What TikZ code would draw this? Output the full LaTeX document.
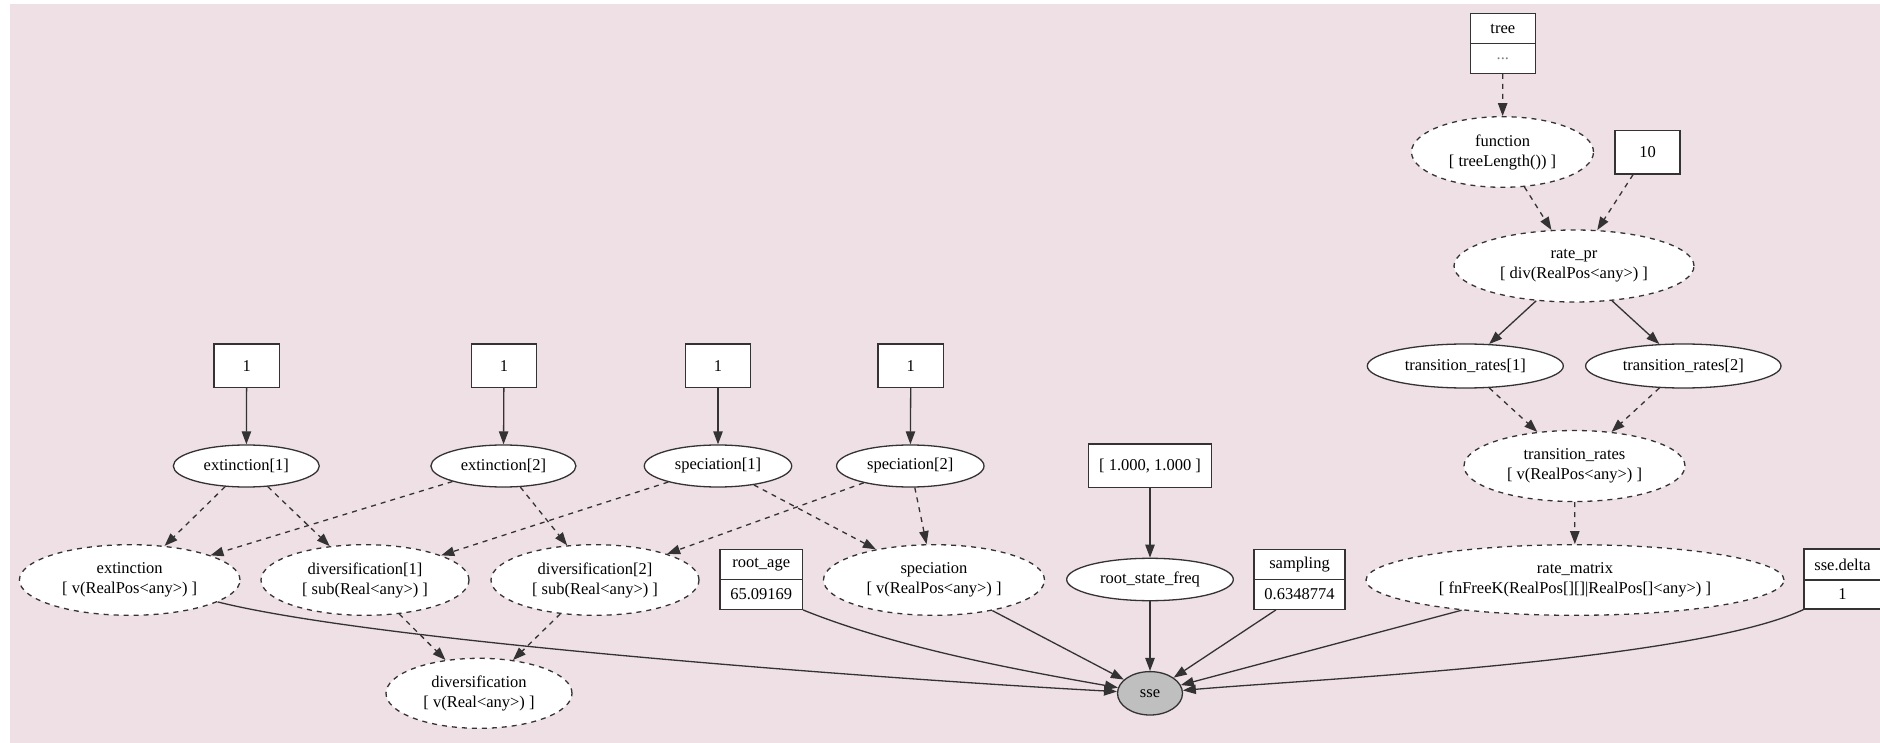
\documentclass[tikz,border=0pt]{standalone}
\usepackage{fontspec}
\setmainfont{Liberation Serif}
\usepackage{tikz}
\usetikzlibrary{shapes.geometric,arrows.meta}
\definecolor{bg}{RGB}{238,224,229}

\begin{document}
\begin{tikzpicture}[x=0.5pt, y=-0.5pt, line width=0.65pt, % 1単位=1px、y軸は下向き
    font=\fontsize{8.25pt}{10pt}\selectfont,
    every node/.style={draw=black!80, fill=white, inner sep=0pt, align=center},
    wh/.style 2 args={minimum width=#1pt, minimum height=#2pt}, % 幅・高さ(pt)
    stoch/.style={ellipse}, % 確率変数
    determ/.style={ellipse, dash pattern=on 2.5pt off 2.5pt}, % 決定論的変数
    const/.style={rectangle}, % 定数
    clamped/.style={ellipse, fill=black!25}, % 観測値
    arr/.style={draw=black!80, -{Triangle[length=6.5pt, width=4.7pt]}}, % 矢印
    darr/.style={arr, dash pattern=on 2.5pt off 2.5pt}]
    \useasboundingbox (0,0) rectangle (1880,743);
    \clip (0,0) rectangle (1880,743);
    \fill[bg] (10,4) rectangle (1890,750); % 背景

    % 定数の箱
    \node[const, wh={32.7}{21.7}] (c1) at (246.7,365.7) {1};
    \node[const, wh={32.7}{21.7}] (c2) at (504,365.7) {1};
    \node[const, wh={32.7}{21.7}] (c3) at (718,365.7) {1};
    \node[const, wh={32.7}{21.7}] (c4) at (910.8,365.7) {1};
    \node[const, wh={61.7}{21.8}] (freq) at (1150,465.8) {[ 1.000, 1.000 ]};
    \node[const, wh={32.5}{21.7}] (ten) at (1647.5,152.3) {10};

    % 二段の箱(名前と値)
    \node[const, wh={32.5}{14.8}] (treeh) at (1502.8,28.5) {tree};
    \node[const, wh={32.5}{15}] (tree) at (1502.8,58.3) {\color{gray}...};
    \node[const, wh={41.2}{15}] (rah) at (761.2,564.3) {root\_age};
    \node[const, wh={41.2}{15}] (ra) at (761.2,594.3) {65.09169};
    \node[const, wh={45.5}{15}] (samph) at (1299.5,564.3) {sampling};
    \node[const, wh={45.5}{15}] (samp) at (1299.5,594.3) {0.6348774};
    \node[const, wh={38.5}{15.5}] (deltah) at (1842.5,564.5) {sse.delta};
    \node[const, wh={38.5}{14.5}] (delta) at (1842.5,594.5) {1};

    % 確率変数
    \node[stoch, wh={73}{21}] (ext1) at (246.3,466) {extinction[1]};
    \node[stoch, wh={72.5}{21}] (ext2) at (503.4,466) {extinction[2]};
    \node[stoch, wh={73.7}{21}] (spe1) at (718,466) {speciation[1]};
    \node[stoch, wh={73.7}{21}] (spe2) at (910.3,466) {speciation[2]};
    \node[stoch, wh={83.3}{21.2}] (rsf) at (1150,579.5) {root\_state\_freq};
    \node[stoch, wh={98}{22}] (tr1) at (1465.3,366) {transition\_rates[1]};
    \node[stoch, wh={97.7}{22}] (tr2) at (1683.3,366) {transition\_rates[2]};
    \node[clamped, wh={32.5}{21.7}] (sse) at (1150,693.3) {sse};

    % 決定論的変数
    \node[determ, wh={110.3}{35.3}] (ext) at (129.7,580) {extinction\\{[} v(RealPos<any>) ]};
    \node[determ, wh={104}{35.3}] (div1) at (365,580) {diversification[1]\\{[} sub(Real<any>) ]};
    \node[determ, wh={104}{35.3}] (div2) at (595,580) {diversification[2]\\{[} sub(Real<any>) ]};
    \node[determ, wh={110.5}{35.3}] (spe) at (934,580) {speciation\\{[} v(RealPos<any>) ]};
    \node[determ, wh={93}{35}] (div) at (479,693.3) {diversification\\{[} v(Real<any>) ]};
    \node[determ, wh={91}{35.3}] (func) at (1502.5,152) {function\\{[} treeLength()) ]};
    \node[determ, wh={120}{36}] (ratepr) at (1574,266) {rate\_pr\\{[} div(RealPos<any>) ]};
    \node[determ, wh={110.5}{35.5}] (trates) at (1574.5,466) {transition\_rates\\{[} v(RealPos<any>) ]};
    \node[determ, wh={209}{35.3}] (rmat) at (1575,580) {rate\_matrix\\{[} fnFreeK(RealPos[][]|RealPos[]<any>) ]};

    % 辺
    \draw[arr] (c1) -- (ext1);
    \draw[arr] (c2) -- (ext2);
    \draw[arr] (c3) -- (spe1);
    \draw[arr] (c4) -- (spe2);
    \draw[darr] (ext1) -- (ext);
    \draw[darr] (ext1) -- (div1);
    \draw[darr] (ext2) -- (ext);
    \draw[darr] (ext2) -- (div2);
    \draw[darr] (spe1) -- (div1);
    \draw[darr] (spe1) -- (spe);
    \draw[darr] (spe2) -- (div2);
    \draw[darr] (spe2) -- (spe);
    \draw[darr] (div1) -- (div);
    \draw[darr] (div2) -- (div);
    \draw[arr] (freq) -- (rsf);
    \draw[darr] (tree) -- (func);
    \draw[darr] (func) -- (ratepr);
    \draw[darr] (ten) -- (ratepr);
    \draw[arr] (ratepr) -- (tr1);
    \draw[arr] (ratepr) -- (tr2);
    \draw[darr] (tr1) -- (trates);
    \draw[darr] (tr2) -- (trates);
    \draw[darr] (trates) -- (rmat);

    % sseへの辺
    \draw[arr] (ext) to[out=-14, in=177, looseness=0.5] (sse);
    \draw[arr] (ra.south east) to[out=-22, in=170, looseness=0.8] (sse);
    \draw[arr] (spe) -- (sse);
    \draw[arr] (rsf) -- (sse);
    \draw[arr] (samp) -- (sse);
    \draw[arr] (rmat) -- (sse);
    \draw[arr] (delta.south west) to[out=205, in=5, looseness=0.5] (sse);
\end{tikzpicture}
\end{document}
